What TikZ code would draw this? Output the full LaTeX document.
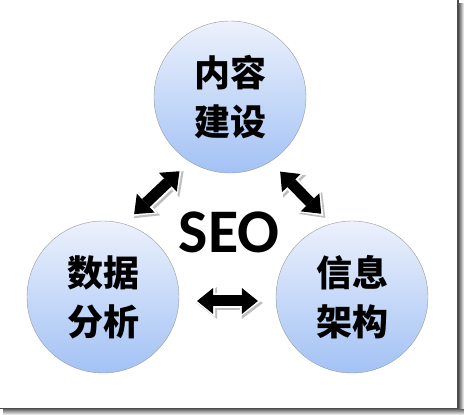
\documentclass[tikz,border=0pt]{standalone}
\usepackage{fontspec}
\newfontfamily\cjk{Noto Sans CJK SC}
\newfontfamily\seofont{Carlito}
\usetikzlibrary{arrows.meta}
\definecolor{bubbletop}{RGB}{236,241,252}
\definecolor{bubblebot}{RGB}{163,194,245}

\begin{document}
\begin{tikzpicture}[x=1pt, y=-1pt,
    bubble/.style={circle, draw=black!40, thin, minimum size=152pt, inner sep=0pt,
        top color=bubbletop, bottom color=bubblebot, align=center,
        font=\cjk\bfseries\fontsize{36}{49}\selectfont},
    link/.style={line width=11pt, >={Triangle[width=26pt, length=16pt, line width=0pt]}, <->,
        shorten <=#1, shorten >=#1,
        preaction={draw=black!25, line width=15pt, >={Triangle[width=32pt, length=21pt, line width=0pt]}, <->,
            shorten <=#1-3pt, shorten >=#1-3pt, transform canvas={shift={(2pt,-2pt)}}},
        preaction={draw=white, line width=15pt, >={Triangle[width=32pt, length=21pt, line width=0pt]}, <->,
            shorten <=#1-3pt, shorten >=#1-3pt}}]
    \useasboundingbox (0,0) rectangle (464,415);

    % frame with its shadow
    \shade [left color=black!60, right color=white] (459,3) rectangle (464,415);
    \shade [top color=black!60, bottom color=white] (3,409) rectangle (464,415);
    \draw [black!70, line width=1.5pt] (458,0) -- (458,408.5) -- (0,408.5);

    % the three circles
    \node [bubble] (content) at (230,97) {内容\\建设};
    \node [bubble] (data) at (103,297) {数据\\分析};
    \node [bubble] (arch) at (352,297) {信息\\架构};

    \node [font=\seofont\bfseries\fontsize{62}{62}\selectfont, inner sep=0pt] (seo) at (229,232) {SEO};

    % double arrows between them
    \draw [link=14pt] (content.238) -- (data.74);
    \draw [link=14pt] (content.302) -- (arch.106);
    \draw [link=18pt] (data.-3) -- (arch.183);
\end{tikzpicture}
\end{document}
